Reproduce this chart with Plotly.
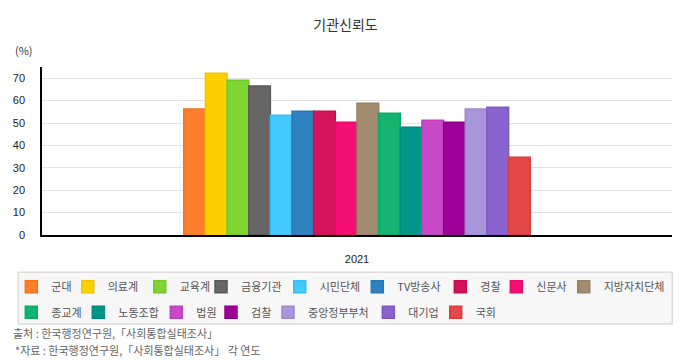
import plotly.graph_objects as go

categories = ["2021"]
series_names = ["군대", "의료계", "교육계", "금융기관", "시민단체", "TV방송사", "경찰", "신문사",
                "지방자치단체", "종교계", "노동조합", "법원", "검찰", "중앙정부부처", "대기업", "국회"]
series_values = [56.3, 72.2, 69.1, 66.5, 53.5, 55.3, 55.3, 50.3,
                 58.8, 54.4, 48.1, 51.2, 50.3, 56.2, 57.0, 34.7]
colors = ["#FD7F2C", "#FFD000", "#7FD633", "#666666", "#43C8FF", "#2F82C0", "#D3145A", "#F50F74",
          "#A38B6F", "#13B370", "#00968A", "#C849C8", "#9C0097", "#A895DA", "#8A64CE", "#E24848"]
borders = ["#F27420", "#F2C400", "#74C82A", "#5A5A5A", "#38BDF2", "#2777B4", "#C40E4F", "#E80A69",
           "#97805F", "#0FA765", "#008A7F", "#BC40BC", "#8F008A", "#9D89CF", "#7E58C2", "#D63C3C"]
# legend entry widths (px) so that entries sit where the reference legend places them
legend_widths = [11.4, 27, 16.3, 33.7, 32.6, 38, 11, 22.4, 63,
                 22, 33, 9.7, 12, 55.3, 22.4, 22]
first_row_count = 9

font_family = "Noto Sans CJK KR, Noto Sans, sans-serif"
tick_family = "Liberation Sans, Arial, sans-serif"

fig = go.Figure()
for i, (name, val, c, b, lw) in enumerate(zip(series_names, series_values, colors, borders, legend_widths)):
    fig.add_trace(go.Bar(
        x=categories, y=[val], name=name,
        marker=dict(color=c, line=dict(color=b, width=1.5)),
        legend="legend" if i < first_row_count else "legend2",
        legendwidth=lw,
        hovertemplate=name + ": %{y}<extra></extra>",
    ))

legend_common = dict(orientation="h", xanchor="left", yanchor="top",
                     bgcolor="rgba(0,0,0,0)", borderwidth=0,
                     font=dict(size=11, color="#555", family=font_family),
                     itemwidth=30, traceorder="normal", itemclick=False, itemdoubleclick=False)

fig.update_layout(
    width=690, height=360,
    margin=dict(l=42, r=18, t=67, b=125, autoexpand=False),
    paper_bgcolor="white", plot_bgcolor="white",
    font=dict(family=font_family, size=12, color="#333"),
    barmode="group", bargap=0.45, bargroupgap=0,
    title=dict(text="기관신뢰도", x=345.5 / 690, xanchor="center", y=1 - 25 / 360, yanchor="middle",
               font=dict(size=14, color="#333", family=font_family)),
    showlegend=True,
    legend=dict(x=-0.0487, y=-0.2214, **legend_common),
    legend2=dict(x=-0.0487, y=-0.3738, **legend_common),
    xaxis=dict(showline=True, linecolor="#000", linewidth=1.5, ticks="", ticklabelstandoff=13,
               tickfont=dict(size=11, color="#222", family=tick_family), fixedrange=True),
    yaxis=dict(range=[0, 75], dtick=10, showline=True, linecolor="#000", linewidth=1.5,
               gridcolor="#e3e3e3", gridwidth=1, zeroline=False, ticks="", ticklabelstandoff=13,
               tickfont=dict(size=11, color="#222", family=tick_family), fixedrange=True),
    shapes=[dict(type="rect", xref="paper", yref="paper", x0=-0.0376, x1=1.0005,
                 y0=-0.5298, y1=-0.222, fillcolor="#f7f7f7",
                 line=dict(color="#dddddd", width=1.5), layer="below")],
    annotations=[
        dict(text="(%)", xref="paper", yref="paper", x=-0.0286, y=1.101, xanchor="center",
             yanchor="middle", showarrow=False, font=dict(size=11, color="#333")),
        dict(text="출처 : 한국행정연구원,「사회통합실태조사」", xref="paper", yref="paper",
             x=-0.0485, y=-0.585, xanchor="left", yanchor="middle", showarrow=False,
             font=dict(size=11, color="#666")),
        dict(text="*자료 : 한국행정연구원,「사회통합실태조사」 각 연도", xref="paper", yref="paper",
             x=-0.0465, y=-0.6845, xanchor="left", yanchor="middle", showarrow=False,
             font=dict(size=11, color="#666")),
    ],
)

fig.write_html("out.html", config={"displayModeBar": False},
               post_script="document.body.style.margin='0';")
